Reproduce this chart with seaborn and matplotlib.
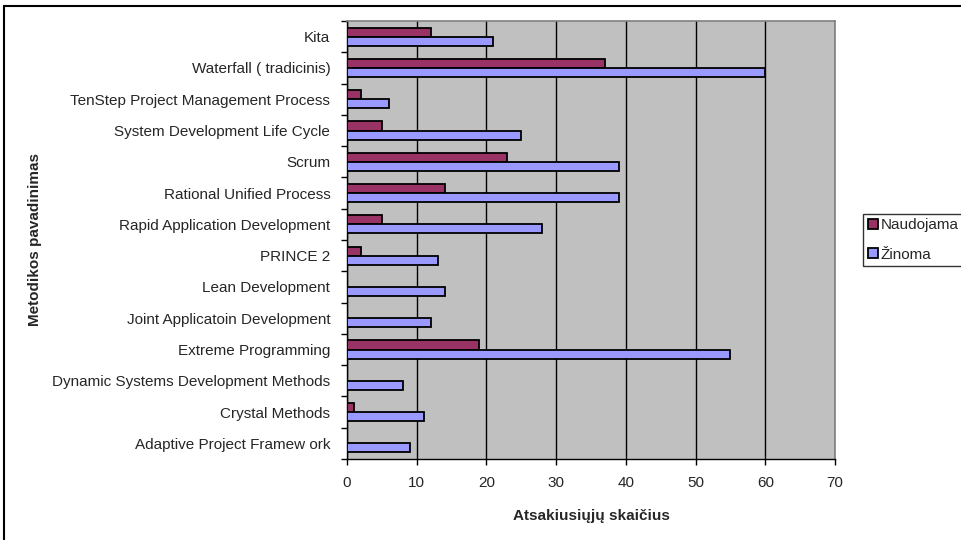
import numpy as np
import pandas as pd
import matplotlib
matplotlib.use("Agg")
import matplotlib.pyplot as plt
from matplotlib.patches import Rectangle
import seaborn as sns

methods = [
    "Kita",
    "Waterfall ( tradicinis)",
    "TenStep Project Management Process",
    "System Development Life Cycle",
    "Scrum",
    "Rational Unified Process",
    "Rapid Application Development",
    "PRINCE 2",
    "Lean Development",
    "Joint Applicatoin Development",
    "Extreme Programming",
    "Dynamic Systems Development Methods",
    "Crystal Methods",
    "Adaptive Project Framew ork",
]
naudojama = [12, 37, 2, 5, 23, 14, 5, 2, 0, 0, 19, 0, 1, 0]
zinoma = [21, 60, 6, 25, 39, 39, 28, 13, 14, 12, 55, 8, 11, 9]
series = ["Naudojama", "Žinoma"]
colors = ["#993366", "#9999FF"]
x_ticks = [0, 10, 20, 30, 40, 50, 60, 70]

df = pd.DataFrame({
    "metodas": methods * 2,
    "reiksme": naudojama + zinoma,
    "serija": [series[0]] * len(methods) + [series[1]] * len(methods),
})

sns.set_style("white")
plt.rcParams["font.family"] = ["Liberation Sans", "DejaVu Sans"]
FS = 11

fig = plt.figure(figsize=(9.62, 5.4), dpi=100)
ax = fig.add_axes([347 / 962, 1 - 459 / 540, (835 - 347) / 962, (459 - 21) / 540])
ax.set_facecolor("#C0C0C0")

sns.barplot(data=df, y="metodas", x="reiksme", hue="serija", order=methods,
            hue_order=series, palette=colors, orient="h", width=0.58,
            edgecolor="black", linewidth=1.3, saturation=1, ax=ax, zorder=3)

ax.set_xlim(0, 70)
ax.set_ylim(len(methods) - 0.5, -0.5)
ax.set_xticks(x_ticks)
ax.set_xticklabels([str(t) for t in x_ticks], fontsize=FS)
ax.tick_params(axis="x", bottom=True, direction="out", length=4, width=1,
               color="black", pad=8)
ax.set_yticks(np.arange(len(methods)))
ax.set_yticklabels(methods, fontsize=FS)
ax.tick_params(axis="y", which="major", left=True, length=0, pad=12)
ax.set_yticks(np.arange(-0.5, len(methods), 1), minor=True)
ax.tick_params(axis="y", which="minor", left=True, direction="out", length=4,
               width=1, color="black")

ax.xaxis.grid(True, color="black", linewidth=1, zorder=0)
ax.set_axisbelow(True)
for side in ["left", "bottom"]:
    ax.spines[side].set_color("black")
    ax.spines[side].set_linewidth(1)
for side in ["top", "right"]:
    ax.spines[side].set_color("#808080")
    ax.spines[side].set_linewidth(1.2)

ax.set_xlabel("Atsakiusiųjų skaičius", fontsize=FS, fontweight="bold", labelpad=14)
ax.set_ylabel("Metodikos pavadinimas", fontsize=FS, fontweight="bold")
ax.yaxis.set_label_coords(-(347 - 42) / (835 - 347), 0.5)

handles, labels = ax.get_legend_handles_labels()
leg = ax.legend(handles, labels, loc="center left",
                bbox_to_anchor=(863 / 962, 1 - 240 / 540),
                bbox_transform=fig.transFigure, frameon=True, fancybox=False,
                edgecolor="black", fontsize=FS, handlelength=0.65,
                handleheight=0.65, handletextpad=0.2, borderpad=0.3,
                labelspacing=1.0, borderaxespad=0)
leg.get_frame().set_linewidth(1)
leg.get_frame().set_facecolor("white")

fig.patches.append(Rectangle((4 / 962, -0.2), 1.2, 1.2 - 6 / 540,
                             transform=fig.transFigure, fill=False,
                             edgecolor="black", linewidth=1.5, zorder=10))

fig.savefig("out.png", dpi=100, facecolor="white")
